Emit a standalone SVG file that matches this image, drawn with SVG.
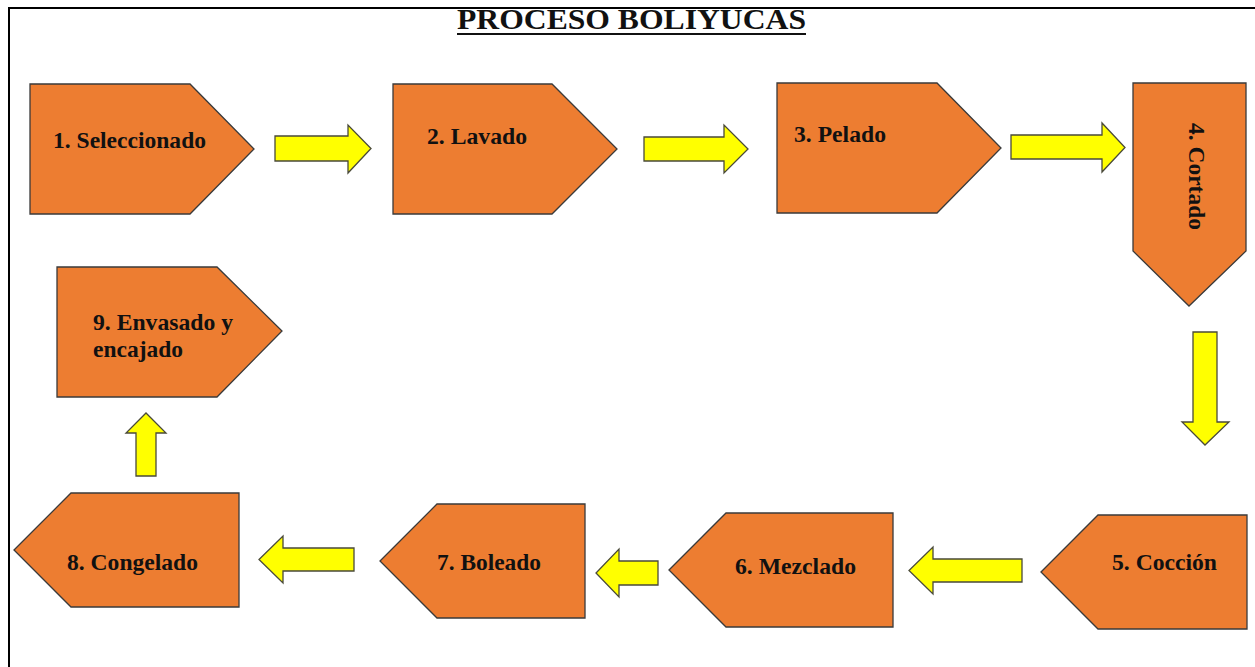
<svg xmlns="http://www.w3.org/2000/svg" width="1255" height="667" viewBox="0 0 1255 667">
<style>
.node{fill:#ED7D31;stroke:#3a3a3a;stroke-width:1.3}
.arr{fill:#FFFF00;stroke:#4a4a3a;stroke-width:1.3}
.lbl{font-family:"Liberation Serif","Times New Roman",serif;font-weight:bold;font-size:23.5px;fill:#111}
.title{font-family:"Liberation Serif","Times New Roman",serif;font-weight:bold;font-size:30px;fill:#111}
</style>
<rect x="0" y="0" width="1255" height="667" fill="#ffffff"/>
<path d="M9,667 V8 H1255" fill="none" stroke="#000" stroke-width="2"/>
<g id="title">
<text class="title" x="457" y="29" textLength="349" lengthAdjust="spacingAndGlyphs">PROCESO BOLIYUCAS</text>
<rect x="457" y="33" width="349" height="2" fill="#111"/>
</g>
<g id="connectors">
<polygon class="arr" points="275,136 348,136 348,125 371,148.5 348,173 348,161 275,161"/>
<polygon class="arr" points="644,137 724,137 724,125 748,149 724,173 724,161 644,161"/>
<polygon class="arr" points="1011,135 1102,135 1102,123 1125,147.5 1102,172 1102,159 1011,159"/>
<polygon class="arr" points="1193,332 1217,332 1217,422 1229,422 1205,445 1182,422 1193,422"/>
<polygon class="arr" points="1022,559 933,559 933,547 909,570.5 933,594 933,582 1022,582"/>
<polygon class="arr" points="658,561 619,561 619,549 596,573 619,597 619,585 658,585"/>
<polygon class="arr" points="354,548 283,548 283,536 259,559.5 283,583 283,571 354,571"/>
<polygon class="arr" points="136,476 136,433 126,433 146,413 166,433 156,433 156,476"/>
</g>
<g id="n1">
<polygon class="node" points="30,84 190,84 254,149 190,214 30,214"/>
<text class="lbl" x="53" y="148" textLength="153" lengthAdjust="spacingAndGlyphs">1. Seleccionado</text>
</g>
<g id="n2">
<polygon class="node" points="393,84 552,84 617,149 552,214 393,214"/>
<text class="lbl" x="427" y="144" textLength="100" lengthAdjust="spacingAndGlyphs">2. Lavado</text>
</g>
<g id="n3">
<polygon class="node" points="777,83 937,83 1001,148 937,213 777,213"/>
<text class="lbl" x="794" y="142" textLength="92" lengthAdjust="spacingAndGlyphs">3. Pelado</text>
</g>
<g id="n4">
<polygon class="node" points="1133,83 1246,83 1246,251 1189,306 1133,251"/>
<text class="lbl" transform="translate(1189,123) rotate(90)" x="0" y="0" textLength="107" lengthAdjust="spacingAndGlyphs">4. Cortado</text>
</g>
<g id="n5">
<polygon class="node" points="1041,572 1098,515 1247,515 1247,629 1098,629"/>
<text class="lbl" x="1112" y="570" textLength="105" lengthAdjust="spacingAndGlyphs">5. Cocción</text>
</g>
<g id="n6">
<polygon class="node" points="669,570 726,513 893,513 893,627 726,627"/>
<text class="lbl" x="735" y="574" textLength="121" lengthAdjust="spacingAndGlyphs">6. Mezclado</text>
</g>
<g id="n7">
<polygon class="node" points="380,561 437,504 585,504 585,618 437,618"/>
<text class="lbl" x="437" y="570" textLength="104" lengthAdjust="spacingAndGlyphs">7. Boleado</text>
</g>
<g id="n8">
<polygon class="node" points="14,550 71,493 239,493 239,607 71,607"/>
<text class="lbl" x="67" y="570" textLength="131" lengthAdjust="spacingAndGlyphs">8. Congelado</text>
</g>
<g id="n9">
<polygon class="node" points="57,267 217,267 282,331 217,397 57,397"/>
<text class="lbl" x="93" y="330" textLength="140" lengthAdjust="spacingAndGlyphs">9. Envasado y</text>
<text class="lbl" x="93" y="357">encajado</text>
</g>
</svg>
